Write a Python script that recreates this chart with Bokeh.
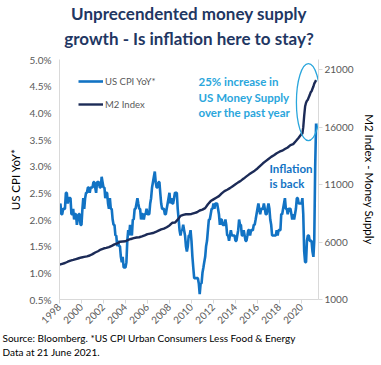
import pandas as pd
from datetime import datetime
from bokeh.plotting import figure
from bokeh.models import (Range1d, LinearAxis, FixedTicker, PrintfTickFormatter, Legend,
                          LegendItem, Label, Title, DatetimeTickFormatter)
from bokeh.embed import file_html
from bokeh.resources import INLINE

# ---------------- data ----------------
title_lines = ["Unprecendented money supply", "growth - Is inflation here to stay?"]
footer_lines = ["Source: Bloomberg. *US CPI Urban Consumers Less Food & Energy",
                "Data at 21 June 2021."]
note_m2 = ["25% increase in", "US Money Supply", "over the past year"]
note_cpi = ["Inflation", "is back"]

cpi_label = "US CPI YoY*"
m2_label = "M2 Index"
left_axis_label = "US CPI YoY*"
right_axis_label = "M2 Index - Money Supply"

# US core CPI YoY (%), monthly from Jan 1998 to May 2021
cpi_start = "1998-01-01"
cpi_yoy = [
    2.2, 2.3, 2.1, 2.1, 2.2, 2.2, 2.2, 2.5, 2.5, 2.3, 2.4, 2.4,   # 1998
    2.4, 2.1, 2.1, 2.2, 2.0, 2.1, 2.1, 1.9, 2.0, 2.1, 2.1, 1.9,   # 1999
    1.9, 2.2, 2.4, 2.2, 2.4, 2.5, 2.5, 2.6, 2.6, 2.5, 2.6, 2.6,   # 2000
    2.6, 2.7, 2.7, 2.6, 2.5, 2.7, 2.7, 2.7, 2.6, 2.6, 2.8, 2.7,   # 2001
    2.6, 2.6, 2.4, 2.5, 2.5, 2.3, 2.2, 2.4, 2.2, 2.2, 2.0, 1.9,   # 2002
    1.9, 1.7, 1.7, 1.5, 1.6, 1.5, 1.5, 1.3, 1.2, 1.3, 1.1, 1.1,   # 2003
    1.1, 1.2, 1.6, 1.8, 1.7, 1.9, 1.8, 1.7, 2.0, 2.0, 2.2, 2.2,   # 2004
    2.3, 2.4, 2.3, 2.2, 2.2, 2.0, 2.1, 2.1, 2.0, 2.1, 2.1, 2.2,   # 2005
    2.1, 2.1, 2.1, 2.3, 2.4, 2.6, 2.7, 2.8, 2.9, 2.7, 2.6, 2.6,   # 2006
    2.7, 2.7, 2.5, 2.3, 2.2, 2.2, 2.2, 2.1, 2.1, 2.2, 2.3, 2.4,   # 2007
    2.5, 2.3, 2.4, 2.3, 2.3, 2.4, 2.5, 2.5, 2.5, 2.2, 2.0, 1.8,   # 2008
    1.7, 1.8, 1.8, 1.9, 1.8, 1.7, 1.5, 1.4, 1.5, 1.7, 1.7, 1.8,   # 2009
    1.6, 1.3, 1.1, 0.9, 0.9, 0.9, 0.9, 0.9, 0.8, 0.6, 0.8, 0.8,   # 2010
    1.0, 1.1, 1.2, 1.3, 1.5, 1.6, 1.8, 2.0, 2.0, 2.1, 2.2, 2.2,   # 2011
    2.3, 2.2, 2.3, 2.3, 2.3, 2.2, 2.1, 1.9, 2.0, 2.0, 1.9, 1.9,   # 2012
    1.9, 2.0, 1.9, 1.7, 1.7, 1.6, 1.7, 1.8, 1.7, 1.7, 1.7, 1.7,   # 2013
    1.6, 1.6, 1.7, 1.8, 2.0, 1.9, 1.9, 1.7, 1.7, 1.8, 1.7, 1.6,   # 2014
    1.6, 1.7, 1.8, 1.8, 1.7, 1.8, 1.8, 1.8, 1.9, 1.9, 2.0, 2.1,   # 2015
    2.2, 2.3, 2.2, 2.1, 2.2, 2.2, 2.2, 2.3, 2.2, 2.1, 2.1, 2.2,   # 2016
    2.3, 2.2, 2.0, 1.9, 1.7, 1.7, 1.7, 1.7, 1.7, 1.8, 1.7, 1.8,   # 2017
    1.8, 1.8, 2.1, 2.1, 2.2, 2.3, 2.4, 2.2, 2.2, 2.1, 2.2, 2.2,   # 2018
    2.2, 2.1, 2.0, 2.1, 2.0, 2.1, 2.2, 2.4, 2.4, 2.3, 2.3, 2.3,   # 2019
    2.3, 2.4, 2.1, 1.4, 1.2, 1.2, 1.6, 1.7, 1.7, 1.6, 1.6, 1.6,   # 2020
    1.4, 1.3, 1.6, 3.0, 3.8,                                      # 2021
]

# M2 money supply (USD bn), quarterly 1998Q1-2019Q4
m2_q_start = "1998-01-01"
m2_quarterly = [
    4040, 4110, 4180, 4290,  4390, 4450, 4520, 4590,  4660, 4710, 4760, 4830,
    4950, 5090, 5200, 5350,  5440, 5490, 5560, 5670,  5800, 5880, 6030, 6050,
    6070, 6190, 6270, 6340,  6400, 6420, 6490, 6580,  6690, 6740, 6790, 6880,
    7000, 7110, 7170, 7290,  7450, 7680, 7700, 7950,  8280, 8370, 8420, 8420,
    8450, 8530, 8600, 8750,  8830, 8960, 9300, 9570,  9720, 9860, 10000, 10240,
    10440, 10560, 10700, 10870,  11040, 11200, 11350, 11530,  11720, 11900, 12060, 12220,
    12410, 12640, 12860, 13050,  13240, 13420, 13560, 13740,  13870, 13960, 14100, 14240,
    14440, 14530, 14800, 15090,
]
# M2 monthly Jan 2020 - May 2021
m2_m_start = "2020-01-01"
m2_monthly = [15410, 15450, 16010, 17020, 17800, 18130, 18310, 18400, 18620, 18800,
              19040, 19130, 19350, 19550, 19800, 19950, 20100]

cpi_ticks = [0.5, 1.0, 1.5, 2.0, 2.5, 3.0, 3.5, 4.0, 4.5, 5.0]
m2_ticks = [1000, 6000, 11000, 16000, 21000]
year_ticks = list(range(1998, 2021, 2))

# ---------------- build ----------------
cpi_dates = pd.date_range(cpi_start, periods=len(cpi_yoy), freq="MS")
m2_dates = pd.date_range(m2_q_start, periods=len(m2_quarterly), freq="QS").append(
    pd.date_range(m2_m_start, periods=len(m2_monthly), freq="MS"))
m2_values = m2_quarterly + m2_monthly

FONT = "Lato"
CPI_COLOR = "#1273C4"
M2_COLOR = "#1C2B57"
LIGHT_BLUE = "#2AA6DC"
TICK_COLOR = "#595959"
AXIS_COLOR = "#D9D9D9"
TITLE_COLOR = "#1F3763"

p = figure(width=381, height=365, x_axis_type="datetime", output_backend="svg",
           toolbar_location=None,
           x_range=Range1d(datetime(1998, 1, 1), datetime(2021, 7, 20)),
           y_range=Range1d(0.5, 5.0),
           min_border_left=59, min_border_right=63, min_border_top=59, min_border_bottom=66)
p.title.visible = False
p.extra_y_ranges = {"m2": Range1d(1000, 21900)}
p.grid.visible = False
p.outline_line_color = None
p.background_fill_color = "white"
p.border_fill_color = "white"

r_cpi = p.line(cpi_dates, cpi_yoy, line_color=CPI_COLOR, line_width=2.6)
r_m2 = p.line(m2_dates, m2_values, line_color=M2_COLOR, line_width=2.4, y_range_name="m2")

# x axis
xa = p.xaxis[0]
xa.ticker = FixedTicker(ticks=[pd.Timestamp(f"{y}-01-01").timestamp() * 1000 for y in year_ticks])
xa.formatter = DatetimeTickFormatter(years="%Y", months="%Y", days="%Y", hours="%Y",
                                     minutes="%Y", seconds="%Y", milliseconds="%Y")
xa.major_label_orientation = 0.785398

# left axis
ya = p.yaxis[0]
ya.ticker = FixedTicker(ticks=cpi_ticks)
ya.formatter = PrintfTickFormatter(format="%.1f%%")
ya.axis_label = left_axis_label
ya.major_tick_out = 0
ya.major_label_standoff = 8
ya.axis_label_standoff = 5

# right axis
ra = LinearAxis(y_range_name="m2", ticker=FixedTicker(ticks=m2_ticks), axis_label=right_axis_label)
ra.major_tick_out = 4
ra.major_label_standoff = 2
ra.axis_label_standoff = 6
p.add_layout(ra, "right")

for ax in [xa, ya, ra]:
    ax.axis_line_color = AXIS_COLOR
    ax.major_tick_line_color = AXIS_COLOR
    ax.minor_tick_line_color = None
    ax.major_tick_in = 0
    ax.major_label_text_font = FONT
    ax.major_label_text_font_size = "10px"
    ax.major_label_text_color = TICK_COLOR
    ax.axis_label_text_font = FONT
    ax.axis_label_text_font_size = "11.5px"
    ax.axis_label_text_font_style = "normal"
    ax.axis_label_text_color = "#000000"
xa.major_tick_out = 4
xa.major_label_standoff = 2

legend = Legend(items=[LegendItem(label=cpi_label, renderers=[r_cpi]),
                       LegendItem(label=m2_label, renderers=[r_m2])],
                location=(19, 189), border_line_color=None, background_fill_alpha=0,
                padding=0, margin=0, spacing=11, glyph_width=25, glyph_height=12,
                label_height=12, label_standoff=2, label_text_font=FONT,
                label_text_font_size="9.5px", label_text_color=TICK_COLOR)
p.add_layout(legend)

# ellipse highlighting the M2 jump
p.ellipse(x=[pd.Timestamp("2020-08-19")], y=[4.2], width=24, height=77,
          width_units="screen", height_units="screen",
          fill_color=None, line_color=LIGHT_BLUE, line_width=1.3)

# spacer between frame and title, then the two-line title (later-added sits further out)
p.add_layout(Title(text=" ", text_font=FONT, text_font_size="6px", standoff=0), "above")
for txt, so in zip(reversed(title_lines), [4, 0]):
    p.add_layout(Title(text=txt, align="center", text_font=FONT, text_font_size="17px",
                       text_font_style="bold", text_color=TITLE_COLOR, standoff=so), "above")

# footer below the x axis
for txt in footer_lines:
    p.add_layout(Title(text=txt, align="left", offset=-57, text_font=FONT,
                       text_font_size="10px", text_font_style="normal",
                       text_color="#000000", standoff=0), "below")

for txt, yy in zip(note_m2, [218, 202, 187]):
    p.add_layout(Label(x=139, y=yy, x_units="screen", y_units="screen", text=txt,
                       text_align="left", text_baseline="middle", text_font=FONT,
                       text_font_size="11.5px", text_font_style="bold", text_color=LIGHT_BLUE))

for txt, yy in zip(note_cpi, [131, 116]):
    p.add_layout(Label(x=210, y=yy, x_units="screen", y_units="screen", text=txt,
                       text_align="left", text_baseline="middle", text_font=FONT,
                       text_font_size="11.5px", text_font_style="bold", text_color=CPI_COLOR))

open("out.html", "w").write(file_html(p, INLINE))
